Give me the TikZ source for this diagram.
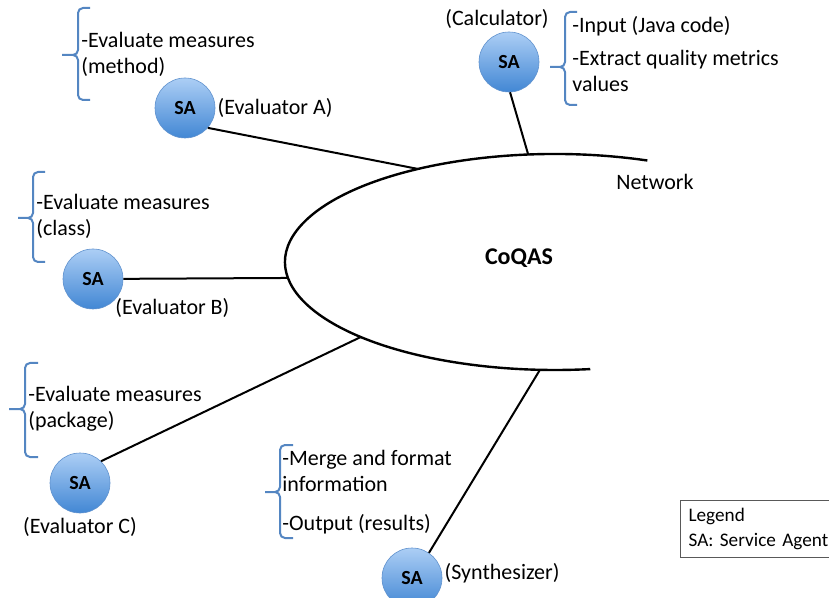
\documentclass[tikz,border=0pt]{standalone}
\usepackage{fontspec}
\setmainfont{Carlito}
\usetikzlibrary{positioning,calc}
\definecolor{saTop}{RGB}{172,206,245}
\definecolor{saBot}{RGB}{66,135,212}
\definecolor{saEdge}{RGB}{96,146,206}
\definecolor{brc}{RGB}{84,134,194}

\begin{document}
\begin{tikzpicture}[
  x=0.5pt, y=-0.5pt,
  sa/.style={circle, minimum size=30pt, inner sep=0pt, top color=saTop, bottom color=saBot, draw=saEdge, line width=0.3pt, font=\fontsize{10}{12}\selectfont\bfseries},
  note/.style={anchor=west, inner sep=0pt, align=left, font=\fontsize{11}{13}\selectfont},
  lbl/.style={inner sep=0pt, font=\fontsize{11}{13}\selectfont},
  brace/.style={draw=brc, line width=1pt, rounded corners=2.5pt},
  link/.style={line width=1pt},
  net/.style={line width=1.2pt},
  legend/.style={draw=black!65, line width=0.6pt, align=left, text width=80pt, minimum height=28.5pt, inner xsep=4pt, font=\fontsize{9.6}{12.5}\selectfont}
]
\useasboundingbox (0,0) rectangle (829,598);

\coordinate (c0) at (555,262);
\draw[net] ($(c0)+(-70:270 and 108)$) arc[start angle=-70, end angle=-277.5, x radius=270, y radius=108];
\coordinate (pA) at ($(c0)+(-120.5:270 and 108)$);
\coordinate (pCa) at ($(c0)+(-95.7:270 and 108)$);
\coordinate (pB) at ($(c0)+(171.5:270 and 108)$);
\coordinate (pC) at ($(c0)+(136:270 and 108)$);
\coordinate (pS) at ($(c0)+(93.2:270 and 108)$);

\node[font=\fontsize{12}{14}\selectfont\bfseries] (core) at (519,258) {CoQAS};
\node[lbl] (netL) at (655,182) {Network};

\node[sa] (calc) at (509,62) {SA};
\node[sa] (evA) at (185,108) {SA};
\node[sa] (evB) at (93,279) {SA};
\node[sa] (evC) at (80,483) {SA};
\node[sa] (synth) at (412,578) {SA};

\node[lbl] (calcL) at (497,19) {(Calculator)};
\node[lbl, right=1pt of evA] (evAL) {(Evaluator A)};
\node[lbl, anchor=west] (evBL) at (115,308) {(Evaluator B)};
\node[lbl, below=2pt of evC] (evCL) {(Evaluator C)};
\node[lbl, right=1pt of synth, yshift=2.5pt] (synthL) {(Synthesizer)};

\draw[link] (evA.-41) -- (pA);
\draw[link] (calc.-88) -- (pCa);
\draw[link] (evB) -- (pB);
\draw[link] (evC.46) -- (pC);
\draw[link] (synth.56) -- (pS);

\draw[brace] (90,8) -- (78,8) -- (78,55) -- (62,55) (62,55) -- (78,55) -- (78,100) -- (90,100);
\draw[brace] (577,12) -- (565,12) -- (565,67) -- (550,67) (550,67) -- (565,67) -- (565,105) -- (577,105);
\draw[brace] (45,172) -- (33,172) -- (33,218) -- (18,218) (18,218) -- (33,218) -- (33,262) -- (45,262);
\draw[brace] (38,363) -- (25,363) -- (25,409) -- (9,409) (9,409) -- (25,409) -- (25,457) -- (38,457);
\draw[brace] (293,445) -- (280,445) -- (280,492) -- (265,492) (265,492) -- (280,492) -- (280,538) -- (293,538);

\node[note] (tA) at (81,54) {-Evaluate measures\\(method)};
\node[note] (tCa) at (572,54) {-Input (Java code)\\[3.5pt]-Extract quality metrics\\values};
\node[note] (tB) at (36,216) {-Evaluate measures\\(class)};
\node[note] (tC) at (28,409) {-Evaluate measures\\(package)};
\node[note] (tS) at (282,492) {-Merge and format\\information\\[6.5pt]-Output (results)};

\node[legend, anchor=north west] (leg) at (680,500) {Legend\\SA:\ Service Agent};
\end{tikzpicture}
\end{document}
